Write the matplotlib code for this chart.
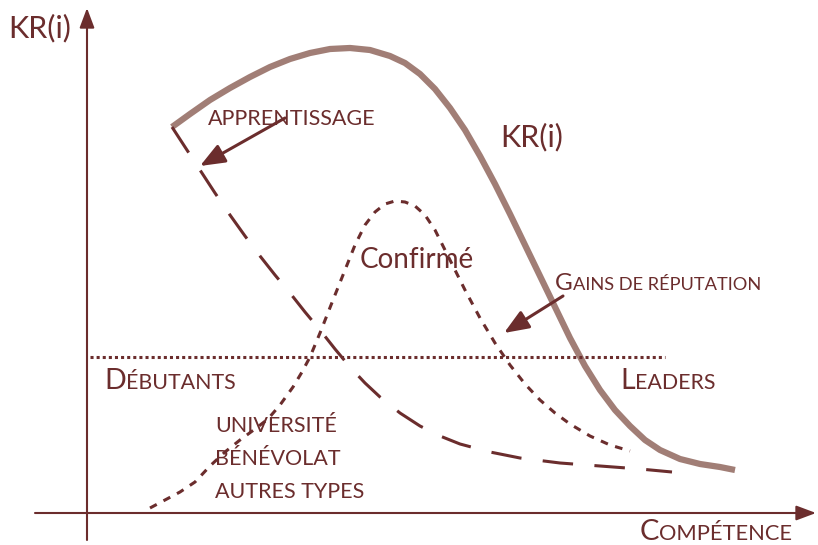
import matplotlib
matplotlib.use("Agg")
from matplotlib import pyplot as plt

#Colours and font
dark = "#6b2d2d"
light = "#a17e76"
plt.rcParams['font.family'] = ['Lato', 'DejaVu Sans']

#Curves (x to the right, y downwards like the image)
kr_x = [172, 190, 210, 230, 250, 270, 290, 310, 330, 350, 370, 390, 405, 420, 435, 450, 465, 480,
        495, 510, 525, 540, 555, 570, 585, 600, 615, 630, 645, 660, 680, 700, 720, 735]
kr_y = [127, 114, 100, 88, 77, 67, 59, 53, 49, 48, 50, 56, 63, 74, 89, 108, 130, 156,
        184, 214, 245, 276, 307, 338, 366, 390, 410, 426, 440, 450, 459, 464, 467, 470]

appr_x = [172, 185, 200, 215, 230, 245, 260, 275, 290, 305, 320, 335, 350, 365, 380, 400, 420,
          440, 460, 490, 520, 560, 600, 640, 672]
appr_y = [127, 147, 170, 193, 215, 236, 256, 275, 293, 312, 330, 349, 367, 383, 397, 413, 426,
          436, 444, 452, 458, 463, 466, 469, 472]

conf_x = [150, 165, 180, 195, 210, 225, 240, 255, 268, 280, 293, 302, 310, 320, 333, 345, 355,
          365, 375, 385, 395, 405, 415, 425, 435, 445, 455, 465, 480, 495, 510, 525, 540, 555,
          570, 590, 610, 630]
conf_y = [508, 500, 492, 482, 466, 452, 440, 429, 419, 405, 387, 372, 357, 333, 300, 270, 245,
          225, 212, 204, 201, 202, 206, 215, 230, 250, 270, 290, 318, 343, 365, 384, 400, 413,
          424, 436, 445, 451]

seuil_x = [90, 665]
seuil_y = [357, 357]

#Setup the figure
fig = plt.figure(figsize=(8.18, 5.45), dpi=100)
ax = fig.add_axes([0, 0, 1, 1])
ax.set_xlim(0, 818)
ax.set_ylim(545, 0)
ax.axis("off")

#Axes with arrows
arrow = dict(arrowstyle="-|>,head_length=1.2,head_width=0.45", color=dark, lw=1.5, shrinkA=0, shrinkB=0)
ax.annotate("", xy=(87, 8), xytext=(87, 540), arrowprops=arrow)
ax.annotate("", xy=(816, 513), xytext=(35, 513), arrowprops=arrow)

#Curves
ax.plot(kr_x, kr_y, color=light, lw=4.5, solid_capstyle="butt", solid_joinstyle="round")
ax.plot(appr_x, appr_y, color=dark, lw=2.2, dashes=(10, 7))
ax.plot(conf_x, conf_y, color=dark, lw=2.2, dashes=(2.5, 2.5))
ax.plot(seuil_x, seuil_y, color=dark, lw=2.2, dashes=(1, 1))

#Pointer arrows
ptr = dict(arrowstyle="-|>,head_length=1.5,head_width=0.6", color=dark, lw=2.2, shrinkA=0, shrinkB=0)
ax.annotate("", xy=(200, 166), xytext=(285, 118), arrowprops=ptr)
ax.annotate("", xy=(504, 333), xytext=(563, 296), arrowprops=ptr)

#Small caps text: first letter big, rest upper case and smaller
def smallcaps(x, y, big, rest, size):
    t = ax.text(x, y, big, fontsize=size, color=dark, va="baseline")
    ax.annotate(rest.upper(), xy=(1, y), xycoords=(t, "data"), fontsize=size * 0.75,
                color=dark, va="baseline")

ax.text(8, 37, "KR(i)", fontsize=22, color=dark, va="baseline")
ax.text(500, 146, "KR(i)", fontsize=22, color=dark, va="baseline")
ax.text(208, 125, "APPRENTISSAGE", fontsize=15.5, color=dark, va="baseline")
ax.text(360, 268, "Confirmé", fontsize=20, color=dark, va="baseline")
smallcaps(555, 290, "G", "ains de réputation", 17.5)
smallcaps(104, 389, "D", "ébutants", 20.5)
smallcaps(620, 389, "L", "eaders", 20.5)
ax.text(215, 432, "UNIVERSITÉ", fontsize=15.5, color=dark, va="baseline")
ax.text(215, 465, "BÉNÉVOLAT", fontsize=15.5, color=dark, va="baseline")
ax.text(215, 498, "AUTRES TYPES", fontsize=15.5, color=dark, va="baseline")
smallcaps(640, 540, "C", "ompétence", 21)

fig.savefig("out.png", dpi=100)
